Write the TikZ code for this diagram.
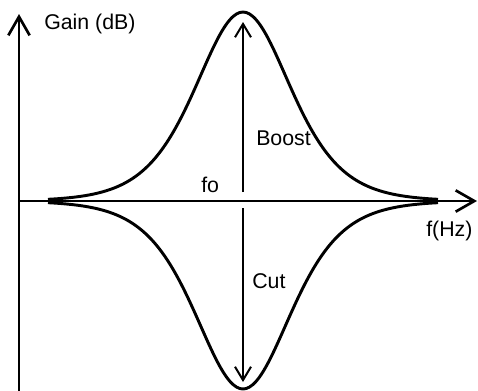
\documentclass[tikz,border=0pt]{standalone}
\usepackage{fontspec}
\setmainfont{Liberation Sans}
\usetikzlibrary{arrows.meta}
\begin{document}
\begin{tikzpicture}[x=0.75pt,y=-0.75pt,
  axis/.style={line width=2pt,-{Straight Barb[length=14pt,width=16pt]}},
  curve/.style={line width=2.2pt},
  span/.style={line width=1.5pt,-{Straight Barb[length=10pt,width=12pt]}},
  lbl/.style={font=\fontsize{16}{19}\selectfont,inner sep=0pt,anchor=base west}]
\useasboundingbox (0,0) rectangle (478,390);
\coordinate (o) at (19,201);
\coordinate (ybot) at (19,392);
\coordinate (ytop) at (19,14);
\coordinate (xend) at (477,201);
\coordinate (bs) at (243,192);
\coordinate (be) at (243,22);
\coordinate (cs) at (243,208);
\coordinate (ce) at (243,382);
% bell curves
\draw[curve] plot[domain=-195:195,samples=121,smooth] ({243+\x},{201-189/(cosh(\x/64)^2)});
\draw[curve] plot[domain=-195:195,samples=121,smooth] ({243+\x},{201+188/(cosh(\x/64)^2)});
% axes
\draw[axis] (ybot) -- (ytop);
\draw[axis] (o) -- (xend);
% boost / cut arrows
\draw[span] (bs) -- (be);
\draw[span] (cs) -- (ce);
% labels
\node[lbl] (gain) at (44,29) {Gain (dB)};
\node[lbl] (fo) at (201,192) {fo};
\node[lbl] (boost) at (256,145) {Boost};
\node[lbl] (fhz) at (426,236) {f(Hz)};
\node[lbl] (cut) at (252,288) {Cut};
\end{tikzpicture}
\end{document}
